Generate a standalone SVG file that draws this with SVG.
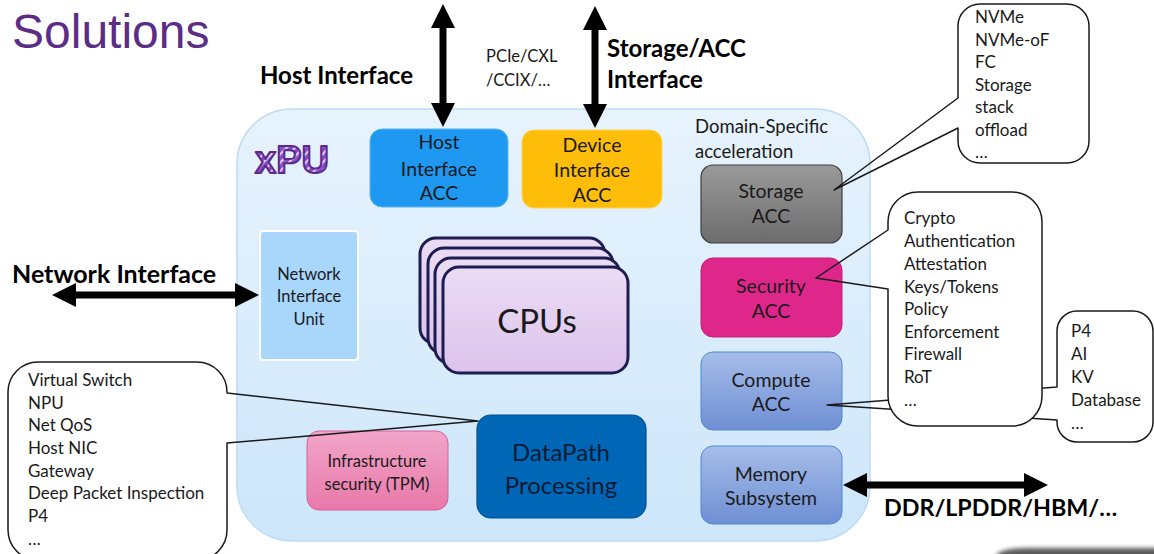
<svg xmlns="http://www.w3.org/2000/svg" width="1154" height="554" viewBox="0 0 1154 554">
  <defs>
    <style>
      .t { font-family: Lato, "Liberation Sans", sans-serif; fill: #1a1a1a; }
      .node { font-size: 19.5px; text-anchor: middle; }
      .co { font-size: 17px; }
      .b { font-family: Lato, "Liberation Sans", sans-serif; font-weight: bold; fill: #000; font-size: 24px; }
      .body { fill: #fff; stroke: none; }
      .callout { fill: none; stroke: #1a1a1a; stroke-width: 1.5; stroke-linejoin: round; }
      .arrow { stroke: #000; stroke-width: 7; fill: none; marker-start: url(#ah); marker-end: url(#ah); }
      .cpu { fill: url(#gCpu); stroke: #1c1c50; stroke-width: 3; }
    </style>
    <marker id="ah" markerUnits="userSpaceOnUse" markerWidth="24" markerHeight="24" refX="3" refY="12" orient="auto-start-reverse" viewBox="0 0 24 24">
      <path d="M0,0 L24,12 L0,24 Z" fill="#000"/>
    </marker>
    <linearGradient id="gXpu" x1="0" y1="0" x2="0" y2="1">
      <stop offset="0" stop-color="#e7f3fd"/>
      <stop offset="1" stop-color="#cde6fa"/>
    </linearGradient>
    <linearGradient id="gGray" x1="0" y1="0" x2="0" y2="1">
      <stop offset="0" stop-color="#9a9a9a"/>
      <stop offset="1" stop-color="#6c6c6c"/>
    </linearGradient>
    <linearGradient id="gBlue" x1="0" y1="0" x2="0" y2="1">
      <stop offset="0" stop-color="#a6bde9"/>
      <stop offset="1" stop-color="#6f8fd4"/>
    </linearGradient>
    <linearGradient id="gPink" x1="0" y1="0" x2="0" y2="1">
      <stop offset="0" stop-color="#f2a6c9"/>
      <stop offset="1" stop-color="#e878a9"/>
    </linearGradient>
    <linearGradient id="gCpu" x1="0" y1="0" x2="0" y2="1">
      <stop offset="0" stop-color="#ebdcf4"/>
      <stop offset="1" stop-color="#dcc3ec"/>
    </linearGradient>
    <pattern id="stripes" patternUnits="userSpaceOnUse" width="6" height="6" patternTransform="rotate(45)">
      <rect width="6" height="6" fill="#8a4cc4"/>
      <rect width="2.2" height="6" fill="#e2c8f5"/>
    </pattern>
    <filter id="blur" x="-10%" y="-100%" width="120%" height="300%">
      <feGaussianBlur stdDeviation="2"/>
    </filter>
  </defs>

  <rect width="1154" height="554" fill="#fff"/>

  <text x="12" y="48" font-family="'Liberation Sans', Arial, sans-serif" font-size="48" fill="#5b2d86">Solutions</text>

  <!-- xPU container -->
  <g id="xpu">
    <rect x="237" y="109" width="633" height="432" rx="55" ry="55" fill="url(#gXpu)" stroke="#bcdcf5" stroke-width="1.5"/>
    <text x="255" y="173" font-family="'Liberation Sans', sans-serif" font-weight="bold" font-size="38" fill="url(#stripes)" stroke="#5a2a8a" stroke-width="2" stroke-linejoin="round">xPU</text>
    <text class="t" x="695" y="133" font-size="18.5">Domain-Specific</text>
    <text class="t" x="695" y="158" font-size="18.5">acceleration</text>
  </g>

  <!-- nodes -->
  <g id="host-acc">
    <rect x="370" y="129" width="138" height="78" rx="12" fill="#1e98f0" stroke="#5ab5f5" stroke-width="1"/>
    <text class="t node" x="439" y="149">Host</text>
    <text class="t node" x="439" y="176">Interface</text>
    <text class="t node" x="439" y="200">ACC</text>
  </g>
  <g id="device-acc">
    <rect x="522" y="130" width="140" height="78" rx="12" fill="#fdbd08" stroke="#ffd452" stroke-width="1"/>
    <text class="t node" x="592" y="152">Device</text>
    <text class="t node" x="592" y="177">Interface</text>
    <text class="t node" x="592" y="202">ACC</text>
  </g>
  <g id="storage-acc">
    <rect x="701" y="165" width="141" height="78" rx="12" fill="url(#gGray)" stroke="#3f3f3f" stroke-width="1.2"/>
    <text class="t node" x="771" y="198">Storage</text>
    <text class="t node" x="771" y="223">ACC</text>
  </g>
  <g id="security-acc">
    <rect x="701" y="258" width="141" height="79" rx="12" fill="#df278b" stroke="#c41f78" stroke-width="1"/>
    <text class="t node" x="771" y="293">Security</text>
    <text class="t node" x="771" y="318">ACC</text>
  </g>
  <g id="compute-acc">
    <rect x="701" y="352" width="141" height="78" rx="12" fill="url(#gBlue)" stroke="#4f8ad0" stroke-width="1"/>
    <text class="t node" x="771" y="387">Compute</text>
    <text class="t node" x="771" y="411">ACC</text>
  </g>
  <g id="memory">
    <rect x="701" y="446" width="141" height="78" rx="12" fill="url(#gBlue)" stroke="#4f8ad0" stroke-width="1"/>
    <text class="t node" x="771" y="481">Memory</text>
    <text class="t node" x="771" y="505">Subsystem</text>
  </g>
  <g id="niu">
    <rect x="260" y="231" width="98" height="129" rx="3" fill="#a9d7fb" stroke="#fff" stroke-width="2"/>
    <text class="t" x="309" y="280" font-size="16.5" text-anchor="middle">Network</text>
    <text class="t" x="309" y="302" font-size="16.5" text-anchor="middle">Interface</text>
    <text class="t" x="309" y="325" font-size="16.5" text-anchor="middle">Unit</text>
  </g>
  <g id="cpus">
    <rect class="cpu" x="420" y="238" width="185" height="106" rx="16"/>
    <rect class="cpu" x="428" y="248" width="185" height="106" rx="16"/>
    <rect class="cpu" x="435" y="258" width="185" height="106" rx="16"/>
    <rect class="cpu" x="443" y="267" width="185" height="106" rx="16"/>
    <text class="t" x="537" y="333" font-size="33" text-anchor="middle">CPUs</text>
  </g>
  <g id="datapath">
    <rect x="477" y="415" width="169" height="103" rx="14" fill="#0067b6" stroke="#00508f" stroke-width="1.2"/>
    <text class="t" x="561" y="461" font-size="24" text-anchor="middle" style="fill:#0a1a33">DataPath</text>
    <text class="t" x="561" y="494" font-size="24" text-anchor="middle" style="fill:#0a1a33">Processing</text>
  </g>
  <g id="infra">
    <rect x="307" y="431" width="141" height="79" rx="12" fill="url(#gPink)" stroke="#d6609a" stroke-width="1"/>
    <text class="t" x="377" y="467" font-size="16.5" text-anchor="middle">Infrastructure</text>
    <text class="t" x="377" y="490" font-size="16.5" text-anchor="middle">security (TPM)</text>
  </g>

  <!-- callouts -->
  <g id="callout-compute">
    <rect class="body" x="1057" y="311" width="96" height="131" rx="20"/>
    <path class="callout" d="M1077,311 H1133 A20,20 0 0 1 1153,331 V422 A20,20 0 0 1 1133,442 H1077 A20,20 0 0 1 1057,422 V420 L827,405 L1057,387 V331 A20,20 0 0 1 1077,311 Z"/>
    <text class="t co" x="1071" y="337">P4</text>
    <text class="t co" x="1071" y="360">AI</text>
    <text class="t co" x="1071" y="383">KV</text>
    <text class="t co" x="1071" y="406">Database</text>
    <text class="t co" x="1071" y="429">…</text>
  </g>
  <g id="callout-storage">
    <rect class="body" x="958" y="4" width="131" height="159" rx="22"/>
    <path class="callout" d="M980,4 H1067 A22,22 0 0 1 1089,26 V141 A22,22 0 0 1 1067,163 H980 A22,22 0 0 1 958,141 V128 L834,190 L958,98 V26 A22,22 0 0 1 980,4 Z"/>
    <text class="t co" x="975" y="23">NVMe</text>
    <text class="t co" x="975" y="46">NVMe-oF</text>
    <text class="t co" x="975" y="68">FC</text>
    <text class="t co" x="975" y="91">Storage</text>
    <text class="t co" x="975" y="113">stack</text>
    <text class="t co" x="975" y="136">offload</text>
    <text class="t co" x="975" y="158">…</text>
  </g>
  <g id="callout-security">
    <rect class="body" x="888" y="192" width="154" height="234" rx="30"/>
    <path class="callout" d="M918,192 H1012 A30,30 0 0 1 1042,222 V396 A30,30 0 0 1 1012,426 H918 A30,30 0 0 1 888,396 V289 L816,278 L888,230 V222 A30,30 0 0 1 918,192 Z"/>
    <text class="t co" x="904" y="224">Crypto</text>
    <text class="t co" x="904" y="247">Authentication</text>
    <text class="t co" x="904" y="270">Attestation</text>
    <text class="t co" x="904" y="293">Keys/Tokens</text>
    <text class="t co" x="904" y="315">Policy</text>
    <text class="t co" x="904" y="338">Enforcement</text>
    <text class="t co" x="904" y="360">Firewall</text>
    <text class="t co" x="904" y="383">RoT</text>
    <text class="t co" x="904" y="406">…</text>
  </g>
  <g id="callout-datapath">
    <rect class="body" x="8" y="362" width="219" height="198" rx="30"/>
    <path class="callout" d="M38,362 H197 A30,30 0 0 1 227,392 V393 L478,421 L227,443 V530 A30,30 0 0 1 197,560 H38 A30,30 0 0 1 8,530 V392 A30,30 0 0 1 38,362 Z"/>
    <text class="t co" x="28" y="386">Virtual Switch</text>
    <text class="t co" x="28" y="409">NPU</text>
    <text class="t co" x="28" y="431">Net QoS</text>
    <text class="t co" x="28" y="454">Host NIC</text>
    <text class="t co" x="28" y="477">Gateway</text>
    <text class="t co" x="28" y="499">Deep Packet Inspection</text>
    <text class="t co" x="28" y="522">P4</text>
    <text class="t co" x="28" y="545">…</text>
  </g>

  <!-- connectors -->
  <g id="connectors">
    <line class="arrow" x1="443" y1="25" x2="443" y2="106"/>
    <line class="arrow" x1="595" y1="27" x2="595" y2="107"/>
    <line class="arrow" x1="73" y1="295" x2="238" y2="295"/>
    <line class="arrow" x1="864" y1="485" x2="1027" y2="485"/>
  </g>

  <!-- interface labels -->
  <g id="labels">
    <text class="b" x="260" y="84">Host Interface</text>
    <text class="t" x="486" y="62" font-size="16.5">PCIe/CXL</text>
    <text class="t" x="486" y="86" font-size="16.5">/CCIX/…</text>
    <text class="b" x="607" y="57">Storage/ACC</text>
    <text class="b" x="607" y="88">Interface</text>
    <text class="b" x="12" y="283" style="font-size:25px">Network Interface</text>
    <text class="b" x="884" y="516" style="font-size:23.3px">DDR/LPDDR/HBM/…</text>
  </g>

  <path d="M996,556 Q1000,548 1030,548 H1160 V560 H996 Z" fill="#5a5a5a" filter="url(#blur)"/>
</svg>
